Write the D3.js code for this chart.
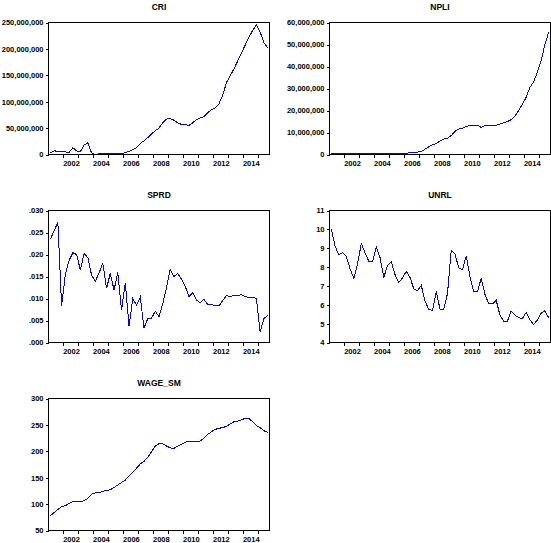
<!DOCTYPE html>
<html>
<head>
<meta charset="utf-8">
<script src="https://cdn.jsdelivr.net/npm/d3@7"></script>
<style>
body { margin: 0; background: #fff; }
svg text { font-family: "Liberation Sans", Arial, sans-serif; font-weight: bold; fill: #000; }
</style>
</head>
<body>
<svg id="chart" width="551" height="543"></svg>
<script>
// quarterly sample 2001Q1 - 2015Q3
var firstYear = 2001;
var nObs = 59;
var yearLabels = [2002, 2004, 2006, 2008, 2010, 2012, 2014];

// CRI and NPLI in millions
var cri = [3, 7, 6, 6, 5, 4, 13, 7, 5, 18,
    22, 3, 0, 1.2, 1.2, 1.2, 1.2, 1.2, 1.2, 1.5,
    3.5, 6, 9, 13, 21, 26, 32, 39, 45, 50,
    60, 67, 68, 65, 60, 57, 57, 55, 60, 66,
    69, 72, 79, 85, 88, 96, 112, 136, 149, 162,
    177, 192, 207, 222, 235, 245, 232, 212, 202];
var npli = [0.45, 0.45, 0.45, 0.45, 0.45, 0.45, 0.45, 0.45, 0.45, 0.45,
    0.45, 0.45, 0.45, 0.45, 0.45, 0.45, 0.45, 0.45, 0.45, 0.45,
    0.45, 1.1, 1.1, 1.1, 1.4, 2.4, 3.5, 4.4, 5, 6.2,
    7, 7.4, 8.6, 10.5, 11.6, 12, 12.7, 13.2, 13.3, 13.3,
    12.3, 13.2, 13.2, 13.2, 13.3, 13.9, 14.4, 15, 15.8, 17.4,
    20, 22.8, 26, 30.5, 33, 37.5, 42.5, 50, 55.5];
var sprd = [.0235, .0254, .0273, .0083, .0155, .0187, .0204, .0200, .0165, .0202,
    .0193, .0153, .0139, .0158, .0180, .0123, .0157, .0119, .0159, .0074,
    .0135, .0037, .0100, .0085, .0103, .0033, .0054, .0055, .0071, .0059,
    .0088, .0125, .0166, .0150, .0157, .0144, .0128, .0104, .0113, .0097,
    .0090, .0098, .0087, .0087, .0083, .0083, .0095, .0107, .0104, .0107,
    .0106, .0109, .0104, .0103, .0103, .0100, .0024, .0054, .0062];
var unrl = [10.0, 9.1, 8.65, 8.77, 8.55, 7.9, 7.4, 8.2, 9.25, 8.75,
    8.3, 8.3, 9.06, 8.5, 7.45, 8.1, 8.27, 7.6, 7.18, 7.42,
    7.78, 7.45, 6.85, 6.75, 7.03, 6.2, 5.75, 5.7, 6.7, 5.77,
    5.75, 6.6, 8.9, 8.7, 7.95, 7.85, 8.6, 7.5, 6.7, 6.7,
    7.4, 6.55, 6.05, 6.05, 6.24, 5.45, 5.13, 5.13, 5.67, 5.45,
    5.32, 5.27, 5.59, 5.2, 4.95, 5.2, 5.55, 5.68, 5.32];
var wageSm = [78, 84, 90, 95, 97, 101, 104.5, 104.5, 104.5, 106.5,
    111, 119, 121, 122, 124, 126, 127, 131.5, 136, 141,
    145.5, 153, 160, 168, 176, 181, 188.5, 199, 210, 214.5,
    214.5, 210, 206.5, 205.5, 210, 213, 217, 219, 219.5, 219.5,
    219.5, 225, 232, 237, 241.5, 243.5, 245, 247, 252, 256,
    257, 259.5, 262.5, 262, 256, 249, 244.5, 239, 236];

var criTicks = [0, 50, 100, 150, 200, 250];
var npliTicks = [0, 10, 20, 30, 40, 50, 60];
var sprdTicks = [0, .005, .010, .015, .020, .025, .030];
var unrlTicks = [4, 5, 6, 7, 8, 9, 10, 11];
var wageTicks = [50, 100, 150, 200, 250, 300];

var millions = (d) => d3.format(',')(d * 1e6);
var noLeadZero = (d) => d3.format('.3f')(d).replace(/^0/, '');

var panels = [
    { title: 'CRI', values: cri, ticks: criTicks, fmt: millions, col: 0, row: 0 },
    { title: 'NPLI', values: npli, ticks: npliTicks, fmt: millions, col: 1, row: 0 },
    { title: 'SPRD', values: sprd, ticks: sprdTicks, fmt: noLeadZero, col: 0, row: 1 },
    { title: 'UNRL', values: unrl, ticks: unrlTicks, fmt: d3.format('d'), col: 1, row: 1 },
    { title: 'WAGE_SM', values: wageSm, ticks: wageTicks, fmt: d3.format('d'), col: 0, row: 2 },
];

var colLeft = [48, 329];
var rowTop = [22, 210, 398];
var w = 221;
var h = 132;

var svg = d3.select('#chart');

panels.forEach((p) => {
    var left = colLeft[p.col];
    var top = rowTop[p.row];
    var g = svg.append('g').attr('transform', `translate(${left + 0.5}, ${top + 0.5})`);

    var x = d3.scaleLinear()
        .domain([firstYear, firstYear + nObs / 4])
        .range([0, w]);
    var y = d3.scaleLinear()
        .domain(d3.extent(p.ticks))
        .range([h, 0]);

    var line = d3.line()
        .x((d, i) => x(firstYear + (i + 0.5) / 4))
        .y((d) => y(d));

    // aliased 1px line like the original export
    g.append('path')
        .datum(p.values)
        .attr('d', line)
        .attr('fill', 'none')
        .attr('stroke', '#0000ff')
        .attr('stroke-width', 1)
        .attr('shape-rendering', 'crispEdges');

    // frame on top of the line
    g.append('rect')
        .attr('width', w)
        .attr('height', h)
        .attr('fill', 'none')
        .attr('stroke', '#000')
        .attr('shape-rendering', 'crispEdges');

    var yAxis = g.append('g')
        .call(d3.axisLeft(y).tickValues(p.ticks).tickFormat(p.fmt).tickSize(3).tickPadding(2));
    yAxis.select('.domain').remove();
    yAxis.selectAll('line').attr('shape-rendering', 'crispEdges');
    yAxis.selectAll('text').style('font-size', '7.5px').attr('font-family', null);

    var xTicks = g.append('g')
        .attr('transform', `translate(0, ${h})`)
        .call(d3.axisBottom(x).tickValues(d3.range(firstYear + 1, firstYear + nObs / 4)).tickFormat('').tickSize(3));
    xTicks.select('.domain').remove();
    xTicks.selectAll('line').attr('shape-rendering', 'crispEdges');

    var xLabels = g.append('g')
        .attr('transform', `translate(0, ${h})`)
        .call(d3.axisBottom(x).tickValues(yearLabels.map((yr) => yr + 0.5)).tickFormat((d) => Math.floor(d)).tickSize(0).tickPadding(6));
    xLabels.select('.domain').remove();
    xLabels.selectAll('text').style('font-size', '7.5px').attr('font-family', null);

    g.append('text')
        .attr('x', w / 2)
        .attr('y', -13)
        .attr('text-anchor', 'middle')
        .style('font-size', '8.5px')
        .text(p.title);
});
</script>
</body>
</html>
